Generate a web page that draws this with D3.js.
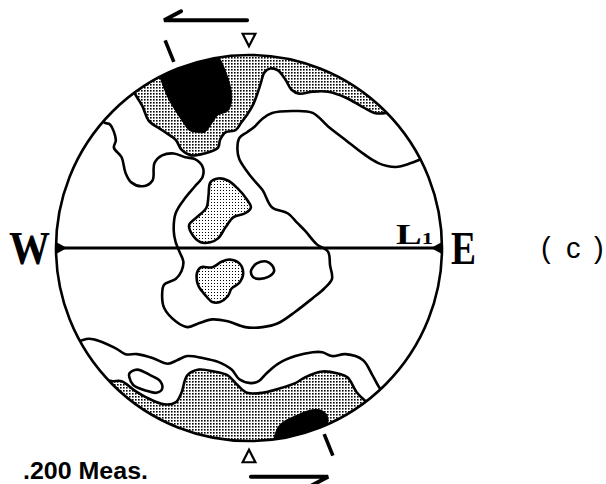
<!DOCTYPE html>
<html><head><meta charset="utf-8">
<script src="https://cdn.jsdelivr.net/npm/d3@7"></script>
<style>html,body{margin:0;padding:0;background:#fff;}svg{display:block;}</style>
</head><body>
<svg id="c" width="606" height="484"></svg>
<script>
// ---- data: contour outlines in stereonet coordinates (percent of net radius; x = east, y = north) ----
const topMaximum = [[-47,92],[-42,78],[-38,71],[-34,65],[-31,61],[-27,60],[-23,60],[-19,65],[-16,69],[-11,71],[-9,77],[-10,85],[-14,96],[-17,102],[-16,110],[-48,102]];
const topStipple = [[-62,88],[-55,73],[-52,66],[-45,61],[-38,56],[-35,51],[-30,48],[-23,49],[-16,52],[-15,56],[-12,60],[-7,61],[-4,65],[-1,69],[2,74],[4,79],[6,85],[8,91],[11,93],[15,92],[19,87],[22,82],[26,80],[33,81],[41,81],[50,78],[59,73],[65,70],[71,70],[77,72],[62,102],[0,118],[-50,110]];
const contourOne = [[-77,68],[-75,65],[-72,64],[-69,56],[-70,52],[-66,47],[-64,39],[-61,34],[-55,32],[-50,35],[-49,44],[-45,48],[-39,49],[-33,47],[-28,46],[-24,42],[-24,37],[-28,32],[-33,26],[-38,18],[-39,9],[-38,3],[-36,-2],[-34,-7],[-35,-12],[-38,-16],[-44,-19],[-45,-24],[-44,-31],[-38,-38],[-32,-41],[-26,-39],[-19,-37],[-11,-38],[-2,-41],[7,-41],[15,-39],[24,-33],[33,-26],[39,-21],[43,-16],[42,-9],[41,-2],[35,2],[29,9],[25,13],[20,18],[12,21],[7,30],[1,37],[-5,46],[-6,51],[-5,57],[-1,60],[3,63],[7,67],[12,70],[24,71],[33,70],[41,63],[50,56],[59,49],[67,44],[76,42],[84,44],[89,46],[94,48]];
const centralBlobA = [[-20,34],[-16,36],[-11,35],[-6,31],[-1,25],[1,21],[-2,18],[-8,16],[-12,11],[-16,5],[-20,3],[-25,3],[-30,8],[-31,12],[-27,16],[-22,21],[-21,27]];
const centralBlobB = [[-27,-13],[-25,-10],[-19,-10],[-14,-7],[-10,-6],[-5,-8],[-3,-13],[-5,-18],[-9,-21],[-11,-25],[-15,-28],[-19,-28],[-23,-24],[-26,-20],[-27,-17]];
const centralRing = [[2,-10],[4,-8],[9,-7],[12,-9],[13,-12],[10,-15],[5,-16],[2,-15],[1,-12]];
const southContour = [[-90,-49],[-87,-48],[-83,-47],[-78,-48],[-69,-52],[-64,-55],[-58,-55],[-50,-57],[-42,-60],[-37,-58],[-32,-56],[-24,-57],[-16,-59],[-9,-63],[-5,-68],[1,-70],[5,-69],[9,-65],[15,-60],[24,-56],[33,-54],[38,-54],[43,-56],[50,-55],[59,-58],[64,-66],[68,-73],[72,-77]];
const southStipple = [[-79,-68],[-71,-69],[-66,-69],[-59,-74],[-52,-78],[-44,-81],[-38,-80],[-35,-75],[-32,-66],[-26,-63],[-18,-64],[-11,-66],[-6,-71],[-1,-75],[7,-75],[15,-73],[24,-70],[29,-67],[38,-64],[46,-65],[51,-67],[56,-75],[60,-79],[65,-83],[40,-112],[-30,-112],[-76,-86]];
const southMaximum = [[13,-102],[15,-93],[18,-90],[24,-87],[32,-84],[37,-84],[40,-86],[41,-89],[40,-93],[42,-104],[20,-110]];
const southRing = [[-62,-65],[-58,-63],[-51,-66],[-46,-69],[-45,-73],[-48,-75],[-53,-74],[-60,-71],[-62,-67]];
const foliationTicks = [338, 158];      // azimuths (deg) of the plane trace ticks
const shearMarkers = [0, 180];          // azimuths of open triangles
const shearArrows = [{from: -1, to: -44, side: "N"}, {from: 1, to: 41, side: "S"}];
const sideLabels = ["W", "E"];
const lineationLabel = "L";
const lineationIndex = "1";
const panelLabel = "c";
const countLabel = ".200 Meas.";

// ---- layout ----
const svg = d3.select("#c");
const cx = 249, cy = 248, R = 193;
const x = d3.scaleLinear().domain([-100, 100]).range([cx - R, cx + R]);
const y = d3.scaleLinear().domain([-100, 100]).range([cy + R, cy - R]);
const polar = (az, r) => [Math.sin(az * Math.PI / 180) * r, Math.cos(az * Math.PI / 180) * r];

const defs = svg.append("defs");
defs.append("clipPath").attr("id", "net").append("circle").attr("cx", cx).attr("cy", cy).attr("r", R);
const pd = defs.append("pattern").attr("id", "dense").attr("patternUnits", "userSpaceOnUse").attr("width", 3).attr("height", 3);
pd.append("rect").attr("width", 3).attr("height", 3).attr("fill", "#fff");
pd.append("rect").attr("x", 0).attr("y", 0).attr("width", 1.6).attr("height", 1.6).attr("fill", "#000");
const pl = defs.append("pattern").attr("id", "light").attr("patternUnits", "userSpaceOnUse").attr("width", 3).attr("height", 3);
pl.append("rect").attr("width", 3).attr("height", 3).attr("fill", "#fff");
pl.append("rect").attr("x", 1).attr("y", 1).attr("width", 1).attr("height", 1).attr("fill", "#000");

const closed = d3.line().x(d => x(d[0])).y(d => y(d[1])).curve(d3.curveCatmullRomClosed.alpha(0.5));
const open = d3.line().x(d => x(d[0])).y(d => y(d[1])).curve(d3.curveCatmullRom.alpha(0.5));

const g = svg.append("g").attr("clip-path", "url(#net)");
const SW = 2.6;
g.append("path").attr("d", closed(topStipple)).attr("fill", "url(#dense)").attr("stroke", "#000").attr("stroke-width", SW);
g.append("path").attr("d", closed(topMaximum)).attr("fill", "#000").attr("stroke", "#000").attr("stroke-width", 1);
g.append("path").attr("d", open(contourOne)).attr("fill", "none").attr("stroke", "#000").attr("stroke-width", SW);
g.append("path").attr("d", closed(centralBlobA)).attr("fill", "url(#light)").attr("stroke", "#000").attr("stroke-width", SW);
g.append("path").attr("d", closed(centralBlobB)).attr("fill", "url(#light)").attr("stroke", "#000").attr("stroke-width", SW);
g.append("path").attr("d", closed(centralRing)).attr("fill", "#fff").attr("stroke", "#000").attr("stroke-width", SW);
g.append("path").attr("d", open(southContour)).attr("fill", "none").attr("stroke", "#000").attr("stroke-width", SW);
g.append("path").attr("d", closed(southStipple)).attr("fill", "url(#dense)").attr("stroke", "#000").attr("stroke-width", SW);
g.append("path").attr("d", closed(southMaximum)).attr("fill", "#000").attr("stroke", "#000").attr("stroke-width", 1);
g.append("path").attr("d", closed(southRing)).attr("fill", "#fff").attr("stroke", "#000").attr("stroke-width", SW);

// primitive circle and E-W line
svg.append("circle").attr("cx", cx).attr("cy", cy).attr("r", R).attr("fill", "none").attr("stroke", "#000").attr("stroke-width", 2.6);
svg.append("line").attr("x1", x(-100)).attr("x2", x(100)).attr("y1", y(0)).attr("y2", y(0)).attr("stroke", "#000").attr("stroke-width", 3);
// small solid arrowheads at W and E
[-1, 1].forEach(s => {
  svg.append("path").attr("d", `M${x(100 * s)},${y(0) - 6}L${x(100 * s)},${y(0) + 6}L${x(100 * s) - s * 11},${y(0)}Z`).attr("fill", "#000");
});

// plane trace ticks
foliationTicks.forEach(az => {
  const a = polar(az, 104), b = polar(az, 116);
  svg.append("line").attr("x1", x(a[0])).attr("y1", y(a[1])).attr("x2", x(b[0])).attr("y2", y(b[1]))
    .attr("stroke", "#000").attr("stroke-width", 3.6);
});
// open triangles pointing to the centre
shearMarkers.forEach(az => {
  const t = az * Math.PI / 180;
  const tip = polar(az, 104.5), base = polar(az, 111);
  const px = Math.cos(t), py = -Math.sin(t); // perpendicular (net units)
  const w = 3.3;
  const pts = [[tip[0], tip[1]], [base[0] + px * w, base[1] + py * w], [base[0] - px * w, base[1] - py * w]];
  svg.append("path").attr("d", "M" + pts.map(p => x(p[0]) + "," + y(p[1])).join("L") + "Z")
    .attr("fill", "none").attr("stroke", "#000").attr("stroke-width", 2.2).attr("stroke-linejoin", "miter");
});
// shear-sense half arrows
shearArrows.forEach(a => {
  const yy = a.side === "N" ? y(118) : y(-118.5);
  const x0 = x(a.from), x1 = x(a.to);
  const dir = Math.sign(x1 - x0);
  const bar = a.side === "N" ? -1 : 1;
  svg.append("path").attr("d", `M${x0},${yy}L${x1},${yy}L${x1 - dir * 17},${yy + bar * 9}`)
    .attr("fill", "none").attr("stroke", "#000").attr("stroke-width", 4).attr("stroke-linecap", "round").attr("stroke-linejoin", "miter");
});

// labels
svg.append("text").attr("x", 9).attr("y", 264).text(sideLabels[0])
  .attr("font-family", "Liberation Serif, Times New Roman, serif").attr("font-weight", "bold").attr("font-size", 46)
  .attr("textLength", 41).attr("lengthAdjust", "spacingAndGlyphs");
svg.append("text").attr("x", 451).attr("y", 264).text(sideLabels[1])
  .attr("font-family", "Liberation Serif, Times New Roman, serif").attr("font-weight", "bold").attr("font-size", 46)
  .attr("textLength", 25).attr("lengthAdjust", "spacingAndGlyphs");
const lt = svg.append("text").attr("x", 396).attr("y", 244)
  .attr("font-family", "Liberation Serif, Times New Roman, serif").attr("font-weight", "bold")
  .attr("textLength", 37).attr("lengthAdjust", "spacingAndGlyphs");
lt.append("tspan").attr("font-size", 29).text(lineationLabel);
lt.append("tspan").attr("font-size", 17).text(lineationIndex);
const pt = svg.append("text").attr("y", 258).attr("font-family", "Liberation Sans, Arial, sans-serif").attr("font-size", 29);
pt.append("tspan").attr("x", 541).text("(");
pt.append("tspan").attr("x", 566).text(panelLabel);
pt.append("tspan").attr("x", 594).text(")");
svg.append("text").attr("x", 23).attr("y", 479).text(countLabel)
  .attr("font-family", "Liberation Sans, Arial, sans-serif").attr("font-weight", "bold").attr("font-size", 23)
  .attr("textLength", 125).attr("lengthAdjust", "spacingAndGlyphs");
</script>
</body></html>
